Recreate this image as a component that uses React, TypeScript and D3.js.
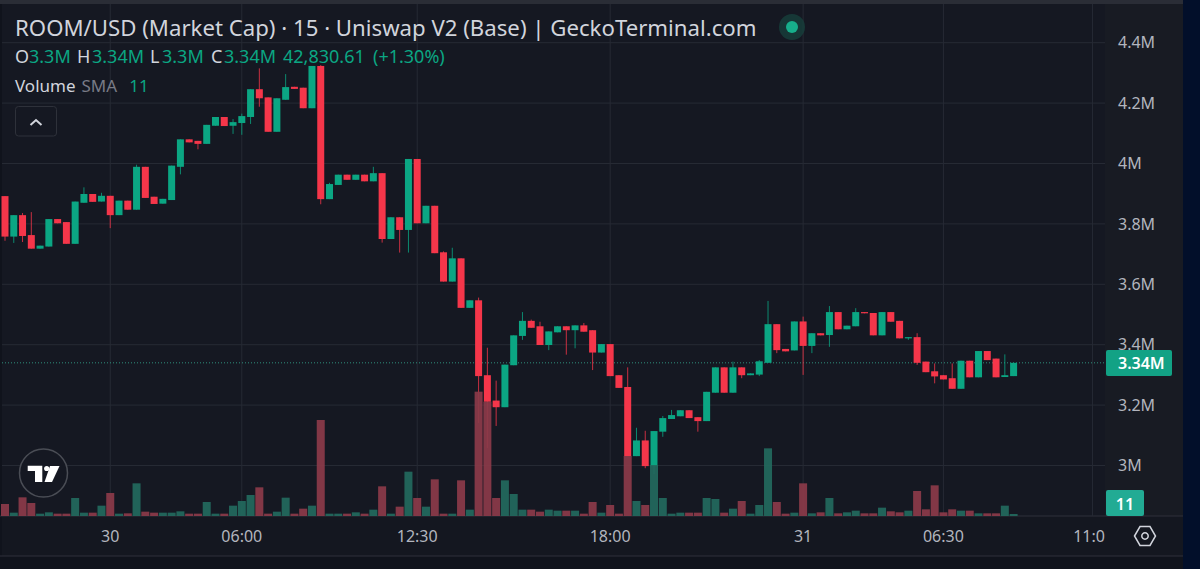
import React from 'react';
import * as d3 from 'd3';

// 15 min candles, market cap in millions of USD
const opens = [3.892,3.758,3.829,3.763,3.718,3.725,3.816,3.806,3.734,3.870,3.899,3.874,3.893,3.829,3.877,3.847,3.989,3.890,3.867,3.879,3.989,4.080,4.075,4.065,4.125,4.154,4.125,4.134,4.154,4.246,4.219,4.105,4.211,4.254,4.251,4.183,4.323,3.882,3.929,3.963,3.946,3.963,3.941,3.968,3.750,3.822,3.780,4.015,3.802,3.860,3.706,3.609,3.686,3.522,3.547,3.299,3.215,3.193,3.332,3.429,3.479,3.461,3.399,3.441,3.461,3.448,3.464,3.448,3.374,3.402,3.299,3.260,3.031,3.083,2.998,3.112,3.154,3.163,3.183,3.160,3.147,3.241,3.325,3.241,3.325,3.299,3.301,3.340,3.468,3.386,3.381,3.477,3.396,3.438,3.432,3.508,3.451,3.461,3.508,3.505,3.431,3.508,3.479,3.421,3.425,3.344,3.312,3.299,3.289,3.254,3.347,3.292,3.379,3.354,3.293,3.296];
const closes = [3.758,3.829,3.760,3.718,3.728,3.816,3.802,3.734,3.874,3.899,3.873,3.893,3.829,3.877,3.847,3.989,3.886,3.866,3.883,3.993,4.080,4.070,4.065,4.128,4.154,4.124,4.137,4.157,4.246,4.216,4.105,4.216,4.253,4.247,4.183,4.323,3.882,3.932,3.963,3.946,3.963,3.941,3.968,3.750,3.822,3.780,4.015,3.802,3.860,3.703,3.609,3.686,3.522,3.547,3.296,3.211,3.193,3.334,3.431,3.479,3.456,3.399,3.444,3.461,3.448,3.464,3.443,3.374,3.402,3.296,3.257,3.031,3.083,2.998,3.114,3.157,3.167,3.183,3.157,3.147,3.244,3.325,3.241,3.325,3.299,3.305,3.345,3.468,3.382,3.378,3.477,3.396,3.438,3.431,3.508,3.451,3.463,3.508,3.504,3.431,3.508,3.476,3.421,3.425,3.340,3.309,3.295,3.285,3.254,3.347,3.292,3.379,3.349,3.292,3.299,3.340];
const highs = [3.892,3.829,3.836,3.839,3.728,3.816,3.816,3.806,3.874,3.921,3.899,3.903,3.893,3.877,3.877,3.996,3.989,3.890,3.883,3.993,4.080,4.080,4.075,4.128,4.154,4.154,4.147,4.165,4.246,4.315,4.219,4.216,4.296,4.254,4.251,4.323,4.326,3.936,3.963,3.963,3.963,3.963,3.989,3.968,3.822,3.822,4.015,4.015,3.860,3.860,3.709,3.721,3.686,3.547,3.556,3.390,3.281,3.334,3.431,3.508,3.483,3.476,3.444,3.461,3.461,3.464,3.472,3.448,3.402,3.402,3.299,3.325,3.125,3.115,3.114,3.164,3.184,3.183,3.183,3.160,3.244,3.325,3.325,3.344,3.325,3.305,3.349,3.545,3.468,3.386,3.477,3.493,3.438,3.438,3.528,3.508,3.463,3.521,3.508,3.505,3.508,3.508,3.479,3.425,3.438,3.344,3.338,3.299,3.338,3.347,3.347,3.379,3.379,3.354,3.368,3.340];
const lows = [3.744,3.737,3.740,3.718,3.718,3.725,3.802,3.734,3.734,3.870,3.873,3.874,3.786,3.829,3.847,3.847,3.886,3.866,3.867,3.879,3.964,4.070,4.047,4.065,4.125,4.124,4.098,4.095,4.131,4.188,4.105,4.105,4.211,4.247,4.183,4.183,3.865,3.882,3.929,3.946,3.946,3.941,3.941,3.738,3.750,3.705,3.705,3.802,3.802,3.703,3.609,3.609,3.522,3.522,3.141,3.058,3.131,3.193,3.332,3.416,3.456,3.399,3.382,3.441,3.367,3.388,3.443,3.316,3.374,3.296,3.257,3.031,3.031,2.991,2.972,3.095,3.154,3.163,3.157,3.112,3.147,3.241,3.241,3.241,3.289,3.299,3.296,3.340,3.372,3.378,3.381,3.300,3.372,3.431,3.393,3.451,3.451,3.461,3.504,3.431,3.431,3.476,3.421,3.416,3.333,3.309,3.272,3.285,3.254,3.254,3.292,3.292,3.349,3.292,3.293,3.296];
// volume in arbitrary units (no scale on the chart)
const volumes = [36,10,56,39,7,11,7,7,54,10,10,31,69,7,8,98,13,10,10,10,14,7,7,42,7,7,31,45,63,86,7,13,55,7,22,31,288,7,7,7,11,7,19,89,7,28,133,54,28,110,7,7,107,19,373,343,54,107,66,19,19,13,19,16,16,16,7,42,10,33,7,180,45,33,153,54,7,10,10,10,54,51,10,22,45,7,33,203,42,7,10,98,8,11,54,8,11,16,8,8,25,14,11,16,75,20,92,11,20,16,16,8,8,8,31,6];

const priceTicks = [3, 3.2, 3.4, 3.6, 3.8, 4, 4.2, 4.4];
const priceTickLabels = ['3M', '3.2M', '3.4M', '3.6M', '3.8M', '4M', '4.2M', '4.4M'];
const timeTickBars = [12, 27, 47, 69, 91, 107, 124];
const timeTickLabels = ['30', '06:00', '12:30', '18:00', '31', '06:30', '11:0'];
const lastPrice = 3.34;

const WIDTH = 1200;
const HEIGHT = 569;
const PANE_RIGHT = 1105;
const FRAME_RIGHT = 1183;
const AXIS_Y = 516;

const UP = '#0ba683';
const DOWN = '#f5364a';
const UP_VOL = '#22695e';
const DOWN_VOL = '#8b3a49';
const GRID = '#262a34';
const FONT = '"Noto Sans", "Open Sans", sans-serif';

const x = d3.scaleLinear().domain([0, 115]).range([5, 1013.6]);
const y = d3.scaleLinear().domain([3, 4]).range([465.5, 163.5]);
const yVol = d3.scaleLinear().domain([0, 373]).range([AXIS_Y, AXIS_Y - 373 / 3]);

const App: React.FC = () => {
  return (
    <svg
      width={WIDTH}
      height={HEIGHT}
      style={{ position: 'absolute', left: 0, top: 0, display: 'block', background: '#020f2a' }}
      fontFamily={FONT}
    >
      {/* frame */}
      <rect x={0} y={0} width={FRAME_RIGHT} height={HEIGHT} fill="#10131c" />
      <rect x={0} y={0} width={FRAME_RIGHT} height={4} fill="#2a2d36" />
      <rect x={2} y={4} width={FRAME_RIGHT - 2} height={AXIS_Y - 4} fill="#151822" />
      <rect x={PANE_RIGHT} y={4} width={FRAME_RIGHT - PANE_RIGHT} height={AXIS_Y - 4} fill="#181b23" />
      <rect x={2} y={AXIS_Y} width={FRAME_RIGHT - 2} height={40} fill="#141720" />
      <line x1={0} x2={FRAME_RIGHT} y1={AXIS_Y} y2={AXIS_Y} stroke="#2e313a" />
      <line x1={0} x2={FRAME_RIGHT} y1={556} y2={556} stroke="#2e313a" />

      {/* grid */}
      {priceTicks.map((t) => (
        <line key={t} x1={2} x2={PANE_RIGHT} y1={y(t)} y2={y(t)} stroke={GRID} />
      ))}
      {timeTickBars.map((b) => (
        <line key={b} x1={x(b)} x2={x(b)} y1={4} y2={AXIS_Y} stroke={GRID} />
      ))}

      {/* last price line */}
      <line
        x1={2}
        x2={PANE_RIGHT}
        y1={y(lastPrice)}
        y2={y(lastPrice)}
        stroke="#2f8f7c"
        strokeDasharray="1 2"
      />

      {/* candles */}
      {opens.map((o, i) => {
        const c = closes[i];
        const color = c >= o ? UP : DOWN;
        const top = y(Math.max(o, c));
        const bottom = y(Math.min(o, c));
        return (
          <g key={i}>
            <line x1={x(i)} x2={x(i)} y1={y(highs[i])} y2={y(lows[i])} stroke={color} opacity={0.8} />
            <rect x={x(i) - 3.5} y={top} width={7} height={Math.max(1, bottom - top)} fill={color} />
          </g>
        );
      })}

      {/* volume */}
      {volumes.map((v, i) => (
        <rect
          key={i}
          x={x(i) - 4}
          y={yVol(v)}
          width={8}
          height={AXIS_Y - yVol(v)}
          fill={closes[i] >= opens[i] ? UP_VOL : DOWN_VOL}
          opacity={0.93}
        />
      ))}

      {/* price axis */}
      {priceTicks.map((t, i) => (
        <text key={t} x={1118} y={y(t)} dy="0.36em" fontSize={16} fill="#b2b5be">
          {priceTickLabels[i]}
        </text>
      ))}
      <rect x={1106} y={350} width={66} height={26} rx={2} fill="#12a285" />
      <text x={1118} y={363.5} dy="0.36em" fontSize={16} fontWeight={600} fill="#ffffff">
        3.34M
      </text>
      <rect x={1106} y={490} width={38} height={26} rx={2} fill="#22ab94" />
      <text x={1125} y={504} dy="0.36em" fontSize={16} fontWeight={600} fill="#ffffff" textAnchor="middle">
        11
      </text>

      {/* time axis */}
      {timeTickBars.map((b, i) => (
        <text
          key={b}
          x={b === 124 ? 1089 : x(b)}
          y={536}
          dy="0.36em"
          fontSize={16}
          fill="#b2b5be"
          textAnchor="middle"
        >
          {timeTickLabels[i]}
        </text>
      ))}

      {/* settings icon */}
      <g transform="translate(1145,536)" fill="none" stroke="#d1d4dc" strokeWidth={1.5}>
        <path d="M-10.5 0 L-5 -9.5 L5 -9.5 L10.5 0 L5 9.5 L-5 9.5 Z" />
        <circle r={3.2} />
      </g>

      {/* legend */}
      <text x={15} y={36} fontSize={22.2} fill="#d1d4dc">
        ROOM/USD (Market Cap) · 15 · Uniswap V2 (Base) | GeckoTerminal.com
      </text>
      <circle cx={792} cy={27} r={13} fill="#16403c" opacity={0.8} />
      <circle cx={792} cy={27} r={6} fill="#17ae8b" />
      <text y={63} fontSize={18}>
        <tspan x={15} fill="#d1d4dc">O</tspan>
        <tspan x={29} fill={UP}>3.3M</tspan>
        <tspan x={77} fill="#d1d4dc">H</tspan>
        <tspan x={92} fill={UP}>3.34M</tspan>
        <tspan x={150} fill="#d1d4dc">L</tspan>
        <tspan x={162} fill={UP}>3.3M</tspan>
        <tspan x={211} fill="#d1d4dc">C</tspan>
        <tspan x={224} fill={UP}>3.34M</tspan>
        <tspan x={283} fill={UP}>42,830.61</tspan>
        <tspan x={373} fill={UP}>(+1.30%)</tspan>
      </text>
      <text x={15} y={92} fontSize={17}>
        <tspan fill="#d1d4dc">Volume</tspan>
        <tspan fill="#787b86" dx={6}>SMA</tspan>
        <tspan fill={UP} dx={12}>11</tspan>
      </text>
      <rect x={15.5} y={106.5} width={41} height={29.5} rx={3} fill="none" stroke="#2e313a" />
      <path d="M30.5 125 L36 120 L41.5 125" fill="none" stroke="#d1d4dc" strokeWidth={2} />

      {/* TradingView mark */}
      <circle cx={43.5} cy={473} r={24} fill="#151822" stroke="#4a4d55" strokeWidth={1.5} />
      <g fill="#ffffff">
        <path d="M27.7 465.7 H42.3 V482 H35 V471 H27.7 Z" />
        <circle cx={46.7} cy={468.5} r={2.6} />
        <path d="M50 466 H59.5 L52 482 H44.5 Z" />
      </g>
    </svg>
  );
};

export default App;
